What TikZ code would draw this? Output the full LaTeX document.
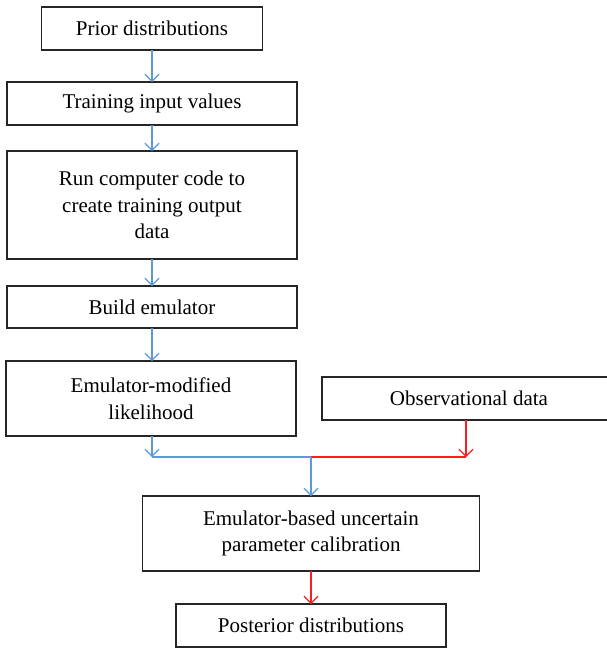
\documentclass[tikz,border=0pt]{standalone}
\usepackage{fontspec}
\setmainfont{Liberation Serif}
\usetikzlibrary{arrows.meta}
\definecolor{arrblue}{RGB}{91,155,213}
\definecolor{arrred}{RGB}{250,30,30}
\definecolor{boxline}{RGB}{38,38,38}
\begin{document}
\begin{tikzpicture}[x=1pt,y=1pt,
  box/.style={draw=boxline,line width=1.3pt,fill=white,inner sep=0pt,outer sep=0pt,align=center,
    font=\fontsize{21}{26.5}\selectfont},
  barrow/.style={draw=arrblue,line width=1.2pt,-{Straight Barb[length=7pt,width=14pt]}},
  rarrow/.style={draw=arrred,line width=1.2pt,-{Straight Barb[length=7pt,width=14pt]}},
  bline/.style={draw=arrblue,line width=1.2pt},
  rline/.style={draw=arrred,line width=1.2pt}]
\useasboundingbox (0,0) rectangle (607,-648);
\node[box,minimum width=221pt,minimum height=43pt] (b1) at (152,-28.5) {Prior distributions};
\node[box,minimum width=290pt,minimum height=43pt] (b2) at (152,-103.5) {Training input values};
\node[box,minimum width=290pt,minimum height=108pt] (b3) at (152,-205) {Run computer code to\\create training output\\data};
\node[box,minimum width=290pt,minimum height=42pt] (b4) at (152,-307) {Build emulator};
\node[box,minimum width=290pt,minimum height=75pt] (b5) at (151,-398.5) {Emulator-modified\\likelihood};
\node[box,minimum width=294pt,minimum height=43pt] (obs) at (469,-398.5) {Observational data};
\node[box,minimum width=337pt,minimum height=75pt] (cal) at (311,-533.5) {Emulator-based uncertain\\parameter calibration};
\node[box,minimum width=270pt,minimum height=43pt] (post) at (311,-625.5) {Posterior distributions};
\coordinate (j) at (311,-457);
\coordinate (jl) at (b4.south |- j);
\coordinate (jr) at (466,-457);
\draw[barrow] (b1.south) -- (b2.north);
\draw[barrow] (b2.south) -- (b3.north);
\draw[barrow] (b3.south) -- (b4.north);
\draw[barrow] (b4.south) -- (b4.south |- b5.north);
\draw[barrow] (b4.south |- b5.south) -- (jl);
\draw[bline] (jl) -- (j);
\draw[rline] (j) -- (jr);
\draw[rarrow] (jr |- obs.south) -- (jr);
\draw[barrow] (j) -- (cal.north);
\draw[rarrow] (cal.south) -- (post.north);
\end{tikzpicture}
\end{document}
